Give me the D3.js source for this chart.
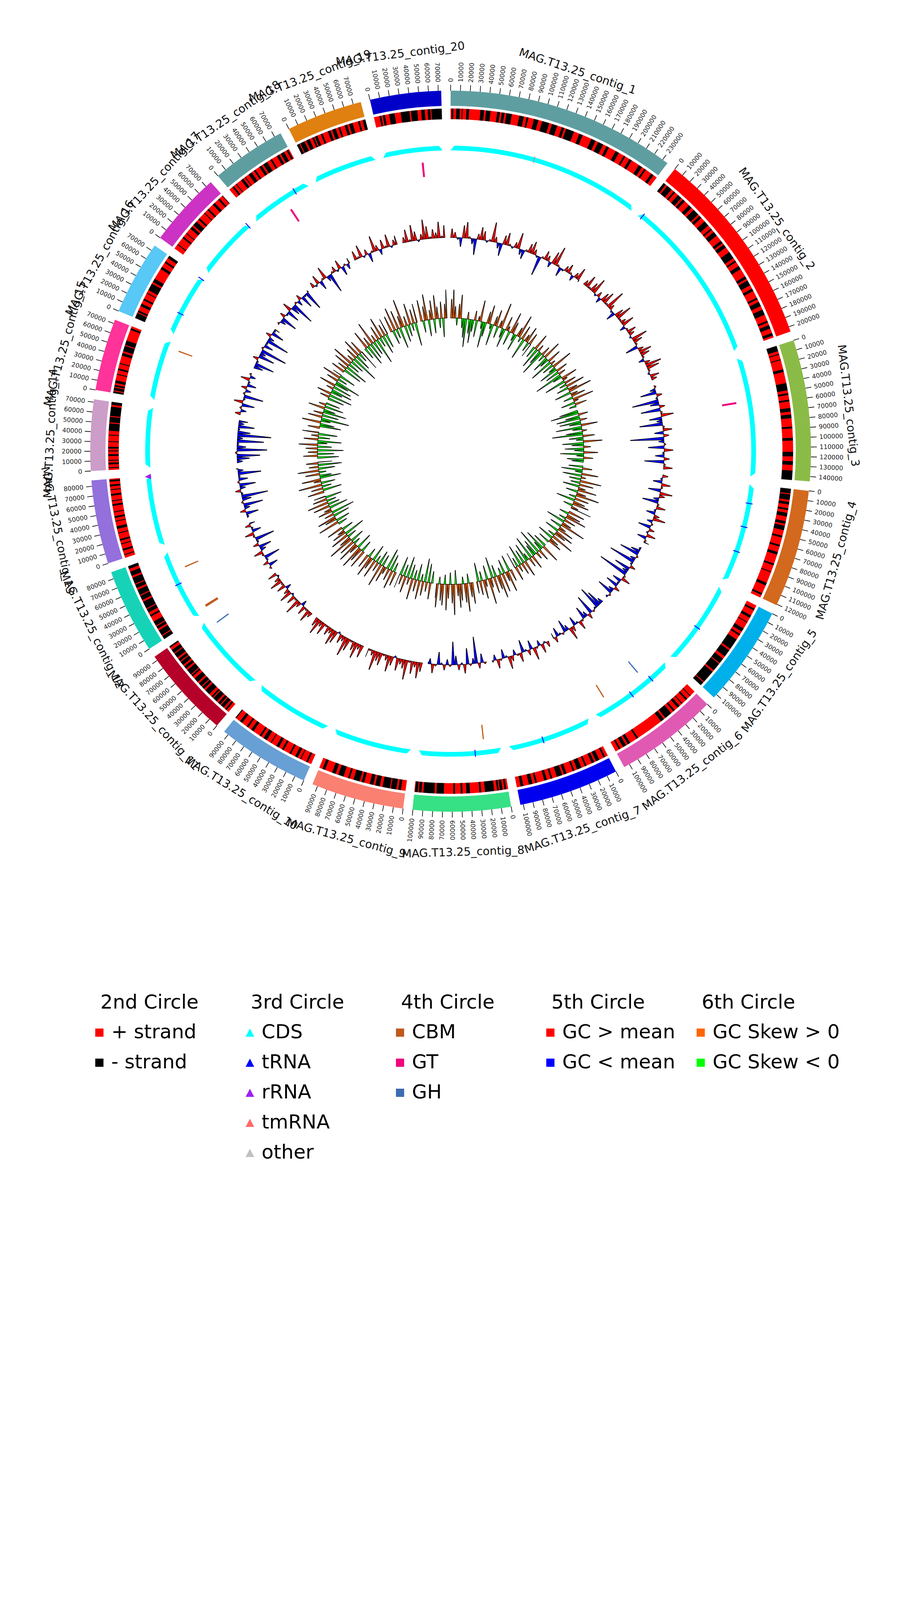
<!DOCTYPE html>
<html>
<head>
<meta charset="utf-8">
<script src="https://cdn.jsdelivr.net/npm/d3@7/dist/d3.min.js"></script>
<style>
  body { margin: 0; background: #fff; }
  svg { display: block; }
</style>
</head>
<body>
<div id="wrapper"></div>
<script>
// contigs, in plotting order (clockwise from 12 o'clock)
const contigNames = [
  "MAG.T13.25_contig_1", "MAG.T13.25_contig_2", "MAG.T13.25_contig_3", "MAG.T13.25_contig_4",
  "MAG.T13.25_contig_5", "MAG.T13.25_contig_6", "MAG.T13.25_contig_7", "MAG.T13.25_contig_8",
  "MAG.T13.25_contig_9", "MAG.T13.25_contig_10", "MAG.T13.25_contig_11", "MAG.T13.25_contig_12",
  "MAG.T13.25_contig_13", "MAG.T13.25_contig_14", "MAG.T13.25_contig_15", "MAG.T13.25_contig_16",
  "MAG.T13.25_contig_17", "MAG.T13.25_contig_18", "MAG.T13.25_contig_19", "MAG.T13.25_contig_20"
];
const contigLengths = [
  236000, 205000, 145000, 121000, 104000, 106000, 103000, 100500, 95500, 95000,
  94500, 87000, 86000, 73000, 74000, 76000, 76500, 77000, 78000, 73000
];
const contigColors = [
  "#5f9ea0", "#ff0000", "#8bbb47", "#d2691e", "#00b0ea", "#e05ab4", "#0000ee", "#36e085", "#fa8072", "#689fd4",
  "#b5002a", "#16d3b8", "#9370db", "#cc9dc8", "#ff3399", "#58c8f6", "#cc33c4", "#5f9ea0", "#e08010", "#0000c8"
];

// 2nd circle: runs of genes in kb, positive = + strand, negative = - strand
const strandRuns = [
  [1,-2,3,-4,2,-1,4,-3,12,-4,2,-5,7,-3,2,-3,2,-6,8,-5,3,-2,6,-5,4,-8,3,-6,5,-3,2,-9,6,-4,10,-5,3,-6,4,-3,8,-4,6,-2,5,-3,9,-4,3,-2,7,-3,5,-4],
  [-3,2,-6,3,-2,4,-5,2,-3,6,-4,3,-7,2,-3,5,-6,4,-2,3,-5,7,-3,2,-4,6,-8,3,-2,5,-4,9,-3,2,-6,4,-3,8,-2,3,-5,4,-6,7,-2,3,-4,5,-3,6,-2,4],
  [-6,3,-1,5,-1,10,-3,12,-8,3,-2,5,-2,7,-4,3,-4,9,-2,10,-3,12,-5,5,-4,6,-12,5],
  [-5,1,-6,2,-3,4,-2,3,-4,5,-3,2,-5,6,-2,8,-2,6,-3,10,-2,7,-1,12,-3,9,-2,6,-1,8],
  [4,-2,6,-3,5,-1,7,-4,3,-2,5,-12,2,-8,3,-6,1,-9,2,-14,1,-8,2,-5],
  [6,-1,4,-2,5,-1,3,-3,4,-2,3,-8,2,-4,30,-2,8,-3,2,-4,3,-2,5],
  [3,-2,5,-4,2,-3,6,-2,4,-5,3,-2,7,-3,2,-6,5,-2,4,-3,8,-2,3,-4,6,-3,5,-2],
  [2,-2,2,-3,1,-2,3,-10,4,-2,10,-4,4,-2,6,-2,10,-8,2,-12,2,-3,1,-3,2,-2],
  [5,-3,2,-6,1,-8,3,-5,2,-4,6,-3,2,-7,4,-2,5,-6,3,-4,8,-3,5],
  [4,-2,6,-1,3,-3,5,-2,7,-2,4,-3,6,-1,5,-4,3,-2,8,-3,4,-2,6,-3,5,-2],
  [3,-2,2,-4,1,-3,2,-5,1,-2,3,-6,2,-3,1,-4,2,-5,3,-2,1,-6,2,-3,2,-4,1,-3,2,-5,1,-4,3,-3],
  [-4,1,-6,2,-3,1,-5,6,-2,3,-4,1,-8,2,-5,1,-6,2,-4,1,-7,2,-5,3,-4,2],
  [3,-1,4,-2,5,-1,3,-2,6,-1,4,-3,5,-1,3,-2,4,-1,6,-2,3,-1,5,-2,4,-1,3,-2,3,-2,3],
  [2,-1,3,-2,2,-1,4,-2,3,-1,2,-2,5,-1,6,-1,4,-8,1,-6,1,-10,2,-3,2],
  [-2,1,-3,1,-2,2,-3,6,-1,4,-2,5,-1,8,-3,2,-6,1,-5,12,-2,8],
  [-6,1,-2,5,-3,4,-2,6,-1,3,-8,2,-4,12,-3,5,-2,4,-3,4],
  [5,-1,8,-2,4,-1,6,-3,2,-5,3,-2,7,-1,4,-2,6,-3,5,-2,4,-1],
  [4,-2,3,-1,6,-3,2,-1,4,-4,3,-2,5,-3,2,-5,4,-2,6,-3,2,-4,3,-2,3],
  [-3,1,-5,2,-4,3,-2,1,-3,4,-2,6,-3,2,-4,3,-2,5,-3,2,-4,6,-2,3,-5,2],
  [6,-2,1.5,-2.5,4.5,-6,6.5,-9.5,1.5,-7,4,-4,3,-3,1,-11,-1]
];

// 5th circle: GC content (%) in 5 kb windows
const gcWindow = 5000;
const gcContent = [
  [54,53,51,49,55,56,52,50,47,53,55,54,51,52,57,53,50,48,54,55,52,51,53,56,50,49,52,54,55,53,51,46,52,54,53,50,55,57,52,49,51,53,54,52,50,53,55,51],
  [53,55,52,54,56,51,53,50,54,55,52,57,53,51,49,54,56,52,53,55,50,52,54,53,51,56,54,52,48,53,55,54,52,50,53,56,55,52,51,54,53],
  [52,50,47,53,51,44,49,53,46,52,55,48,50,45,52,54,49,53,42,50,52,47,54,51,49,53,46,52,54],
  [53,51,49,54,52,48,55,53,50,47,52,54,51,49,53,55,50,52,48,53,51,54,49,52,53],
  [51,49,46,52,50,44,51,53,47,50,43,52,54,49,51,48,53,50,47,52,51],
  [50,47,45,51,52,46,53,50,48,52,54,51,49,53,55,50,48,52,51,49,53,50],
  [53,51,54,50,52,55,49,53,51,48,54,52,50,53,55,51,49,52,54,50,52],
  [52,49,53,44,50,52,47,54,51,53,49,45,52,50,53,51,48,52,54,50,51],
  [54,56,53,55,52,57,54,53,55,51,54,56,53,52,55,54,57,53,52,54],
  [55,53,56,54,52,55,57,53,54,51,55,56,53,54,52,55,53,56,54],
  [53,55,52,54,50,53,56,52,54,51,55,53,50,54,52,55,53,51,54],
  [52,49,53,51,47,52,54,50,48,53,51,46,52,54,49,51,53,50],
  [51,48,53,50,46,52,49,44,51,53,50,47,52,49,51,45,50,52],
  [50,48,45,52,43,49,51,44,50,42,48,51,47,50,49],
  [53,50,52,48,54,51,46,52,50,53,49,51,54,50,52],
  [49,46,51,53,47,50,44,52,49,51,45,50,53,48,51,50],
  [52,50,47,53,51,48,54,49,45,52,50,53,48,51,46,52],
  [53,51,54,49,52,55,50,46,52,53,51,54,49,52,50,53],
  [54,52,55,51,53,49,52,56,53,50,54,52,55,51,53,54],
  [53,55,52,56,54,51,53,57,55,52,54,53,56,52,55]
];

// 6th circle: GC skew (x 0.01) in the same windows
const gcSkew = [
  [8,12,5,-3,6,10,-4,-8,-12,3,-6,-10,-5,4,-7,2,9,-3,-11,-6,5,8,-2,-9,4,7,-5,3,11,-4,-8,6,2,-6,9,5,-3,-7,4,10,-2,6,-9,3,7,-4,5,-6],
  [-5,7,-9,3,-6,-11,4,-3,8,-7,-4,6,-10,2,-5,9,-3,-8,5,-6,3,-12,-4,7,2,-9,5,-3,8,-5,4,10,-7,3,6,-4,9,2,-6,5,-3],
  [-8,-12,4,-6,-10,3,-9,-5,7,-11,-4,2,-7,-13,5,-6,-3,8,-9,-5,3,-8,-4,6,-10,-3,4,-7,-5],
  [-6,4,-9,-3,7,-8,2,-5,9,-4,6,-7,3,8,-5,4,10,-3,6,-8,5,7,-4,3,9],
  [7,-4,6,9,-3,5,-8,4,11,-5,3,7,-6,8,5,-3,10,-7,4,6,-5],
  [-6,8,-9,-4,5,-11,3,-7,-5,6,-10,4,-3,-8,7,-6,5,-9,3,-4,6,-7],
  [5,-7,9,4,-6,8,-3,10,6,-5,7,-9,4,11,-6,3,8,-4,6,-8,5],
  [9,6,-4,12,8,-3,7,10,5,-6,13,8,-5,6,11,-4,9,7,-3,10,6],
  [-5,7,-8,4,-10,6,-3,8,-7,5,-4,9,-6,3,-9,7,-5,4,-8,6],
  [6,-4,8,-7,5,-9,3,7,-5,10,-6,4,-3,8,-7,5,9,-4,6],
  [8,-5,6,10,-7,4,9,-3,7,-6,11,5,-4,8,-9,6,3,-5,7],
  [-4,9,-6,5,8,-7,4,-10,6,3,-8,7,-5,9,-4,6,-7,5],
  [7,-8,5,-4,10,-6,3,8,-9,-5,6,-3,9,-7,4,-10,5,-6],
  [-9,6,-7,4,-11,5,-6,8,-4,-10,6,-5,3,-8,7],
  [5,-9,-6,8,-4,-12,6,-7,4,-10,-5,7,-8,3,-6],
  [-7,4,-10,6,-5,-9,3,-8,7,-6,-11,5,-4,8,-7,4],
  [6,-8,4,-10,7,-5,9,-6,3,-12,5,-7,8,-4,6,-9],
  [-5,8,-9,4,-7,10,-6,3,-11,6,-4,9,-8,5,-6,7],
  [7,-6,10,-4,8,-9,5,12,-7,4,-5,9,-3,6,-10,8],
  [9,-5,6,11,-7,4,8,-6,10,5,-4,7,-8,6,12]
];

// 3rd circle: RNA features [contig no, position bp]
const trnaSites = [[2,5000],[4,23000],[4,52000],[4,83000],[5,56000],[6,26000],[6,56000],[7,61000],
  [8,32000],[12,46000],[16,26000],[16,75000],[17,75000],[18,59000]];
const rrnaSites = [[13,85000]];
const tmrnaSites = [[1,102000]];

// 4th circle: CAZy genes [contig no, start bp, end bp, class]
const cazyFeatures = [[3,52000,54500,"GT"],[6,32500,34000,"GH"],[6,85500,87000,"CBM"],[8,19500,21000,"CBM"],
  [11,84500,86000,"GH"],[12,5000,8000,"CBM"],[12,61500,63000,"CBM"],[15,65500,67000,"CBM"],
  [18,42000,44500,"GT"],[20,46000,48500,"GT"]];

const legendTitles = ["2nd Circle", "3rd Circle", "4th Circle", "5th Circle", "6th Circle"];
const legendLabels = [
  ["+ strand", "- strand"],
  ["CDS", "tRNA", "rRNA", "tmRNA", "other"],
  ["CBM", "GT", "GH"],
  ["GC > mean", "GC < mean"],
  ["GC Skew > 0", "GC Skew < 0"]
];

function drawCircos() {
  const colors = {
    "+ strand": "#ff0000", "- strand": "#000000",
    "CDS": "#00ffff", "tRNA": "#0000ff", "rRNA": "#a020f0", "tmRNA": "#ff6a6a", "other": "#c0c0c0",
    "CBM": "#c05a1c", "GT": "#f0057e", "GH": "#3d6cb3",
    "GC > mean": "#ff0000", "GC < mean": "#0000ff",
    "GC Skew > 0": "#ff6600", "GC Skew < 0": "#00ff00"
  };

  const dimensions = { width: 2310, height: 4620, cx: 1154, cy: 1155 };
  const font = "'DejaVu Sans', sans-serif";

  const wrapper = d3.select("#wrapper")
    .append("svg")
    .attr("width", dimensions.width)
    .attr("height", dimensions.height)
    .style("background", "#fff");
  const bounds = wrapper.append("g")
    .attr("transform", `translate(${dimensions.cx},${dimensions.cy})`);

  // angular layout: 1.5 degree gap after every contig
  const gap = 1.5 * Math.PI / 180;
  const radPerBp = (2 * Math.PI - gap * contigLengths.length) / d3.sum(contigLengths);
  let acc = 0;
  const sectors = contigLengths.map((len, i) => {
    const a0 = acc;
    acc += len * radPerBp + gap;
    return {
      i, len, name: contigNames[i], color: contigColors[i],
      x: d3.scaleLinear().domain([0, len]).range([a0, a0 + len * radPerBp])
    };
  });

  const arc = d3.arc();
  const polar = (a, r) => [r * Math.sin(a), -r * Math.cos(a)];
  const deg = a => a * 180 / Math.PI;

  // radii of the rings
  const R = {
    contig: [884, 923], tick: 938, tickLabel: 945, name: 1026,
    strand: [850, 877], cds: [770, 782], cazy: [705, 742],
    gcBase: 547, skewBase: 341
  };
  const gcY = d3.scaleLinear().domain([0, 10]).range([R.gcBase, R.gcBase + 90]);
  const skewY = d3.scaleLinear().domain([0, 10]).range([R.skewBase, R.skewBase + 60]);

  // a window drawn as a spike: wide at the baseline, narrow at its tip
  const spike = (s, b, r, base) => {
    const a0 = s.x(b.start), a1 = s.x(b.end), m = (a0 + a1) / 2, w = (a1 - a0) * 0.08;
    return "M" + [polar(a0, base), polar(m - w, r), polar(m + w, r), polar(a1, base)].join("L") + "Z";
  };

  // 1st circle: contig bands with ticks
  const sectorG = bounds.selectAll("g.sector").data(sectors).enter().append("g").attr("class", "sector");
  sectorG.append("path")
    .attr("d", d => arc({ innerRadius: R.contig[0], outerRadius: R.contig[1], startAngle: d.x(0), endAngle: d.x(d.len) }))
    .attr("fill", d => d.color);

  const mean = d3.mean(gcContent.flat());

  sectorG.each(function (s) {
    const g = d3.select(this);
    const ticks = d3.range(0, s.len + 1, 10000);
    g.selectAll("line.tick").data(ticks).enter().append("line")
      .attr("x1", t => polar(s.x(t), R.contig[1])[0]).attr("y1", t => polar(s.x(t), R.contig[1])[1])
      .attr("x2", t => polar(s.x(t), R.tick)[0]).attr("y2", t => polar(s.x(t), R.tick)[1])
      .attr("stroke", "#000").attr("stroke-width", 1.6);
    g.selectAll("text.tick").data(ticks).enter().append("text")
      .attr("transform", t => {
        const th = deg(s.x(t));
        return th <= 180
          ? `rotate(${th - 90}) translate(${R.tickLabel},0)`
          : `rotate(${th - 90}) translate(${R.tickLabel},0) rotate(180)`;
      })
      .attr("text-anchor", t => deg(s.x(t)) <= 180 ? "start" : "end")
      .attr("dominant-baseline", "central")
      .style("font-family", font).style("font-size", "16px").attr("fill", "#222")
      .text(t => t);

    const mid = deg(s.x(s.len / 2));
    const top = mid < 90 || mid > 270;
    g.append("text")
      .attr("transform", `rotate(${mid - 90}) translate(${R.name},0) rotate(${top ? 90 : -90})`)
      .attr("text-anchor", "middle")
      .attr("dominant-baseline", "central")
      .style("font-family", font).style("font-size", "29px").attr("fill", "#111")
      .text(s.name);

    // 2nd circle: strand
    let pos = 0;
    const runs = strandRuns[s.i].map(v => {
      const r = { start: pos, end: Math.min(pos + Math.abs(v) * 1000, s.len), plus: v > 0 };
      pos += Math.abs(v) * 1000;
      return r;
    }).filter(r => r.start < s.len);
    g.selectAll("path.strand").data(runs).enter().append("path")
      .attr("d", r => arc({ innerRadius: R.strand[0], outerRadius: R.strand[1], startAngle: s.x(r.start), endAngle: s.x(r.end) }))
      .attr("fill", r => r.plus ? colors["+ strand"] : colors["- strand"])
      .attr("stroke", r => r.plus ? colors["+ strand"] : colors["- strand"])
      .attr("stroke-width", 0.4);

    // 3rd circle: CDS ring with pointed ends
    const a0 = s.x(0), a1 = s.x(s.len), taper = 0.012;
    const pts = [[a0, R.cds[0]]]
      .concat(d3.range(a0 + taper, a1 - taper, 0.002).map(a => [a, R.cds[1]]))
      .concat([[a1 - taper, R.cds[1]], [a1, R.cds[0]]]);
    g.append("path")
      .attr("d", d3.areaRadial().angle(p => p[0]).innerRadius(R.cds[0]).outerRadius(p => p[1])(pts))
      .attr("fill", colors["CDS"]);

    // 5th circle: GC content
    const gcBars = gcContent[s.i].map((v, k) => ({ start: k * gcWindow, end: Math.min((k + 1) * gcWindow, s.len), v: v - mean }))
      .filter(b => b.start < s.len);
    g.selectAll("path.gc").data(gcBars).enter().append("path")
      .attr("d", b => spike(s, b, gcY(b.v), R.gcBase))
      .attr("fill", b => b.v > 0 ? colors["GC > mean"] : colors["GC < mean"])
      .attr("stroke", "#000").attr("stroke-width", 1.3).attr("stroke-linejoin", "round");

    // 6th circle: GC skew
    const skewBars = gcSkew[s.i].map((v, k) => ({ start: k * gcWindow, end: Math.min((k + 1) * gcWindow, s.len), v }))
      .filter(b => b.start < s.len);
    g.selectAll("path.skew").data(skewBars).enter().append("path")
      .attr("d", b => spike(s, b, skewY(b.v), R.skewBase))
      .attr("fill", b => b.v > 0 ? colors["GC Skew > 0"] : colors["GC Skew < 0"])
      .attr("stroke", "#000").attr("stroke-width", 1.3).attr("stroke-linejoin", "round");
  });

  // RNA marks on the CDS ring
  const rnaLine = (list, color, w) => bounds.append("g").selectAll("line").data(list).enter().append("line")
    .attr("x1", d => polar(sectors[d[0] - 1].x(d[1]), R.cds[0] - 3)[0])
    .attr("y1", d => polar(sectors[d[0] - 1].x(d[1]), R.cds[0] - 3)[1])
    .attr("x2", d => polar(sectors[d[0] - 1].x(d[1]), R.cds[1] + 3)[0])
    .attr("y2", d => polar(sectors[d[0] - 1].x(d[1]), R.cds[1] + 3)[1])
    .attr("stroke", color).attr("stroke-width", w);
  rnaLine(trnaSites, colors["tRNA"], 2.2);
  rnaLine(tmrnaSites, colors["tmRNA"], 1.6);
  bounds.append("g").selectAll("path").data(rrnaSites).enter().append("path")
    .attr("d", d => {
      const s = sectors[d[0] - 1], a = s.x(d[1]);
      return "M" + [polar(a - 0.009, R.cds[0]), polar(a + 0.009, R.cds[0]), polar(a, R.cds[1] + 4)].join("L") + "Z";
    })
    .attr("fill", colors["rRNA"]);

  // 4th circle: CAZy
  bounds.append("g").selectAll("path").data(cazyFeatures).enter().append("path")
    .attr("d", d => {
      const s = sectors[d[0] - 1];
      return arc({ innerRadius: R.cazy[0], outerRadius: R.cazy[1], startAngle: s.x(d[1]), endAngle: s.x(d[2]) });
    })
    .attr("fill", d => colors[d[3]]);

  // legend
  const legend = wrapper.append("g").style("font-family", font).style("font-size", "50px");
  const colX = d3.scaleLinear().domain([0, 1]).range([257, 642]);
  const rowY = d3.scaleLinear().domain([0, 1]).range([2658, 2735]);
  legendTitles.forEach((title, c) => {
    const x = colX(c);
    legend.append("text").attr("x", x).attr("y", 2582).attr("fill", "#000").text(title);
    legendLabels[c].forEach((lab, r) => {
      const y = rowY(r);
      if (c === 1) {
        legend.append("path")
          .attr("d", `M${x - 13},${y - 4}L${x + 9},${y - 4}L${x - 2},${y - 25}Z`)
          .attr("fill", colors[lab]);
      } else {
        legend.append("rect")
          .attr("x", x - 13).attr("y", y - 25).attr("width", 21).attr("height", 21)
          .attr("fill", colors[lab]);
      }
      legend.append("text").attr("x", x + 28).attr("y", y).attr("fill", "#000").text(lab);
    });
  });
}

drawCircos();
</script>
</body>
</html>
